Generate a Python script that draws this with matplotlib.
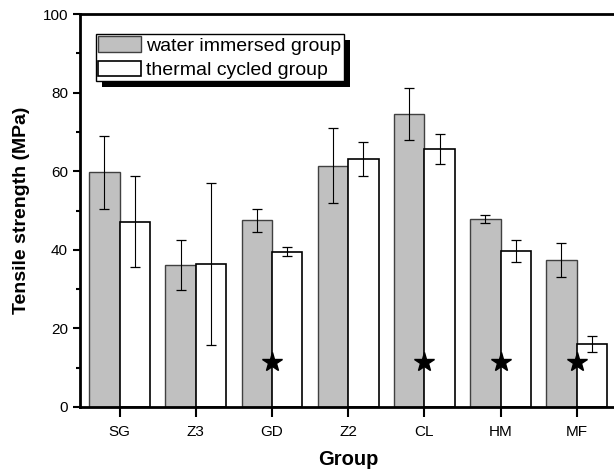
import numpy as np
import matplotlib
matplotlib.use("Agg")
import matplotlib.pyplot as plt
from matplotlib.patches import Rectangle
from matplotlib.ticker import MultipleLocator

plt.rcParams['font.family'] = ['Liberation Sans', 'DejaVu Sans']

# group : water immersed mean/sd : thermal cycled mean/sd
GROUPS = ["SG", "Z3", "GD", "Z2", "CL", "HM", "MF"]
WATER = [59.7, 36.1, 47.5, 61.4, 74.6, 47.9, 37.4]
WATER_SD = [9.3, 6.4, 3.0, 9.6, 6.7, 1.0, 4.3]
THERMAL = [47.2, 36.3, 39.5, 63.2, 65.6, 39.8, 16.0]
THERMAL_SD = [11.6, 20.6, 1.2, 4.3, 3.8, 2.8, 2.0]
STAR_GROUPS = ["GD", "CL", "HM", "MF"]
STAR_Y = 11.5

fig = plt.figure(figsize=(6.14, 4.71), dpi=100)
ax = fig.add_axes([0.130, 0.136, 0.875, 0.834])

x = np.arange(len(GROUPS))
w = 0.4
ax.bar(x - w / 2, WATER, w, color="#c0c0c0", edgecolor="#404040", lw=1.0,
       label="water immersed group", zorder=2)
ax.bar(x + w / 2, THERMAL, w, color="white", edgecolor="black", lw=1.2,
       label="thermal cycled group", zorder=2)
ax.errorbar(x - w / 2, WATER, yerr=WATER_SD, fmt="none", ecolor="black",
            elinewidth=0.8, capsize=3.5, capthick=0.9, zorder=3)
ax.errorbar(x + w / 2, THERMAL, yerr=THERMAL_SD, fmt="none", ecolor="black",
            elinewidth=0.8, capsize=3.5, capthick=0.9, zorder=3)

sx = [GROUPS.index(g) for g in STAR_GROUPS]
ax.plot(sx, [STAR_Y] * len(sx), ls="none", marker="*", ms=15, color="black",
        zorder=4)

ax.set_xlim(-0.523, 6.53)
ax.set_ylim(0, 100)
ax.set_xticks(x)
ax.set_xticklabels(GROUPS, fontsize=11)
ax.yaxis.set_major_locator(MultipleLocator(20))
ax.yaxis.set_minor_locator(MultipleLocator(10))
ax.tick_params(axis="y", labelsize=11, direction="out", length=5, width=1.5)
ax.tick_params(axis="y", which="minor", direction="out", length=3, width=1.5)
ax.tick_params(axis="x", direction="out", length=7, width=1.5, pad=6)
for s in ax.spines.values():
    s.set_linewidth(2)

ax.set_xlabel("Group", fontsize=14.5, fontweight="bold", labelpad=8)
ax.set_ylabel("Tensile strength (MPa)", fontsize=14, fontweight="bold",
              labelpad=9)

leg = ax.legend(loc="upper left", bbox_to_anchor=(0.030, 0.949), fontsize=14,
                frameon=True, fancybox=False, edgecolor="black", framealpha=1,
                borderaxespad=0, borderpad=0.12, handlelength=2.2,
                handleheight=0.82, handletextpad=0.26, labelspacing=0.3)
leg.get_frame().set_linewidth(1.0)
leg.set_zorder(6)

# drop shadow behind the legend box
fig.canvas.draw()
bb = leg.get_frame().get_window_extent().transformed(fig.transFigure.inverted())
off_x, off_y = 6 / 614, 6 / 471
ax.add_patch(Rectangle((bb.x0 + off_x, bb.y0 - off_y), bb.width, bb.height,
                       transform=fig.transFigure, facecolor="black",
                       edgecolor="none", zorder=5, clip_on=False))

fig.savefig("out.png", dpi=100)
